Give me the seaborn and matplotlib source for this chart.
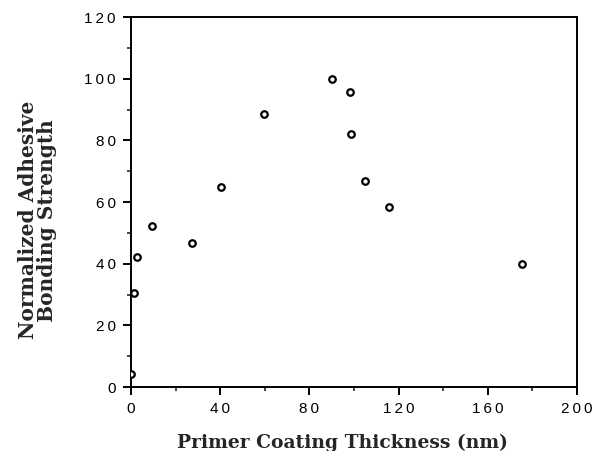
import numpy as np
import pandas as pd
import matplotlib
matplotlib.use("Agg")
import matplotlib.pyplot as plt
from matplotlib.ticker import MultipleLocator
import seaborn as sns

# values
thickness = [0.2, 1.3, 2.5, 9.3, 27.5, 40.2, 59.6, 90.0, 98.0, 98.7, 105.1, 115.5, 175.2]
strength = [4.1, 30.5, 42.1, 52.2, 46.6, 65.0, 88.5, 99.8, 95.8, 82.0, 66.8, 58.5, 39.9]

x_ticks = [0, 40, 80, 120, 160, 200]
y_ticks = [0, 20, 40, 60, 80, 100, 120]

df = pd.DataFrame({"thickness": thickness, "strength": strength})

sns.set_style("ticks")
plt.rcParams['font.family'] = ['Liberation Sans', 'DejaVu Sans']

fig = plt.figure(figsize=(5.97, 4.51), dpi=100)
ax = fig.add_axes([0.2194, 0.1419, 0.9665 - 0.2194, 0.9623 - 0.1419])

sns.scatterplot(data=df, x="thickness", y="strength", ax=ax,
                marker="o", s=22, facecolor="white", edgecolor="black",
                linewidth=1.6, zorder=3)

ax.set_xlim(0, 200)
ax.set_ylim(0, 120)
# the scan's tick digits are widely spaced
spaced = lambda v: "\u2009".join(str(v))
ax.set_xticks(x_ticks, [spaced(v) for v in x_ticks])
ax.set_yticks(y_ticks, [spaced(v) for v in y_ticks])
ax.xaxis.set_minor_locator(MultipleLocator(20))
ax.yaxis.set_minor_locator(MultipleLocator(10))

for s in ax.spines.values():
    s.set_linewidth(1.4)
    s.set_color("black")

ax.tick_params(which="major", direction="out", length=6, width=1.4,
               labelsize=11, colors="black", pad=5)
ax.tick_params(which="minor", direction="out", length=3, width=1.2)

ax.set_xlabel("Primer Coating Thickness (nm)",
              fontdict=dict(family=['DejaVu Serif'], weight='bold', size=13.5))
ax.set_ylabel("Normalized Adhesive\nBonding Strength",
              fontdict=dict(family=['DejaVu Serif'], weight='bold', size=14.5),
              linespacing=0.9)
ax.xaxis.set_label_coords(0.475, -0.151)
ax.xaxis.label.set_va("center")
ax.yaxis.set_label_coords(-0.21, 0.451)
ax.yaxis.label.set_va("center")

fig.savefig("out.png", dpi=100)
